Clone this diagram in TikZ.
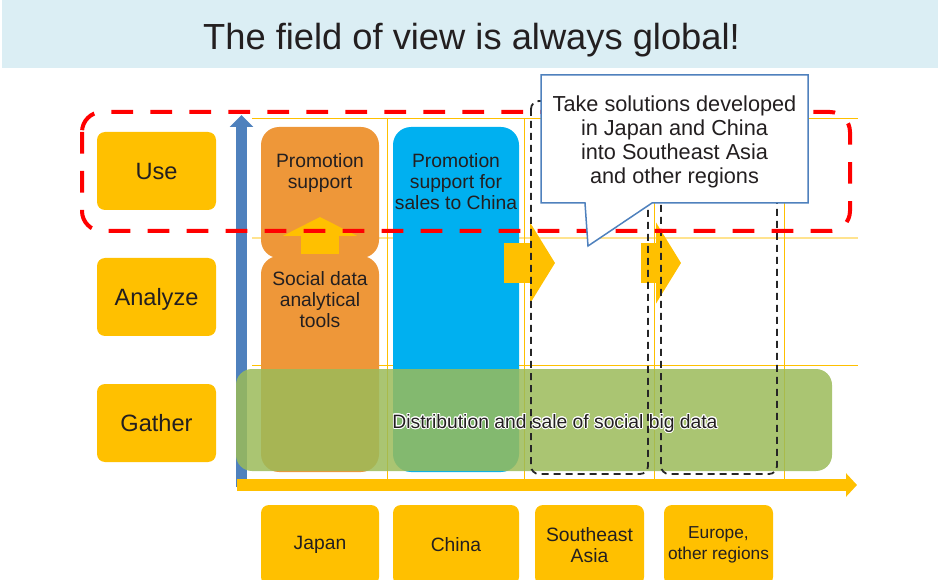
\documentclass[tikz,border=0pt]{standalone}
\usepackage{fontspec}
\setmainfont{Liberation Sans}
\usepackage[copies]{contour}
\usepackage{xcolor}
\usetikzlibrary{arrows.meta}

\definecolor{bandblue}{HTML}{DBEEF4}
\definecolor{gold}{HTML}{FFC000}
\definecolor{paleline}{HTML}{FFE38F}
\definecolor{jporange}{HTML}{EE9739}
\definecolor{cnblue}{HTML}{00B0F0}
\definecolor{axisblue}{HTML}{4F81BD}
\definecolor{bargreen}{HTML}{9BBB59}
\definecolor{ink}{HTML}{231F20}
\contourlength{0.9pt}

\begin{document}
\begin{tikzpicture}[x=1pt, y=-1pt,
  stage/.style={fill=gold, rounded corners=8pt, minimum width=119pt, minimum height=78pt,
    text=ink, text depth=0pt, font=\fontsize{23.6}{26}\selectfont},
  region/.style={fill=gold, rounded corners=8pt, minimum height=80pt, inner sep=2pt,
    text=ink, align=center, font=\fontsize{19.3}{20.7}\selectfont},
  coltext/.style={anchor=north, inner sep=0pt, align=center, text=ink,
    font=\fontsize{19.3}{21}\selectfont},
  gridline/.style={gold, line width=0.8pt},
  blockarrow/.style={gold, line width=40pt, -{Triangle[width=80pt,length=25pt]}},
  outlook/.style={black!85, line width=1.8pt, dash pattern=on 7pt off 5pt, rounded corners=8pt}
]
  \useasboundingbox (0,0) rectangle (938,580);
  \clip (0,0) rectangle (938,580);

  % heading band
  \fill[bandblue] (2,0) rectangle (938,68);
  \node[anchor=base, text=ink, font=\fontsize{36.3}{40}\selectfont] (title) at (471.5,50)
    {The field of view is always global!};

  % thin guide lines of the grid
  \foreach \yy in {118,365} \draw[gridline] (252,\yy) -- (858,\yy);
  \draw[paleline, line width=2pt] (252,238) -- (858,238);
  \foreach \xx in {387,524,654,784} \draw[gridline] (\xx,118) -- (\xx,479);

  % vertical axis
  \draw[axisblue, line width=11pt, -{Triangle[width=23pt,length=12pt]}] (241.5,487) -- (241.5,115);

  % Japan column
  \fill[jporange, rounded corners=18pt] (261,256) rectangle (379,472);
  \fill[jporange, rounded corners=18pt] (261,127) rectangle (379,258);
  \node[coltext] (jpuse) at (320,153.3) {Promotion\\support};
  \node[coltext] (jptools) at (320,271.5) {Social data\\analytical\\tools};
  \draw[gold, line width=38pt, -{Triangle[width=74pt,length=19pt]}] (320,254) -- (320,217);

  % China column
  \fill[cnblue, rounded corners=18pt] (393,127) rectangle (519,472);
  \node[coltext] (cnuse) at (456,153.3) {Promotion\\support for\\sales to China};

  % expansion arrows
  \draw[blockarrow] (504,263) -- (555,263);
  \draw[blockarrow] (641,263) -- (681,263);

  % data layer across all regions
  \fill[bargreen, fill opacity=0.85, rounded corners=16pt] (236,369) rectangle (832,471);

  % horizontal axis
  \draw[gold, line width=12pt, -{Triangle[width=23pt,length=11pt]}] (237,485) -- (857,485);

  % target regions
  \draw[outlook] (531,101) rectangle (648,474);
  \draw[outlook] (661,101) rectangle (777,474);

  \node[anchor=base, text=ink, font=\fontsize{19.3}{22}\selectfont] (bigdata) at (555,428.3)
    {\contour{white}{Distribution and sale of social big data}};

  % the "use" layer
  \draw[red, line width=4pt, dash pattern=on 21.7pt off 17.3pt, rounded corners=20pt]
    (82,112) rectangle (850,231);

  % speech bubble
  \draw[axisblue, fill=white, line width=1.5pt] (541,75) -- (808,75) -- (808,203) -- (652,203)
    -- (588,246) -- (585,203) -- (541,203) -- cycle;
  \node[coltext, font=\fontsize{21.7}{23.7}\selectfont] (bubble) at (674.5,96)
    {Take solutions developed\\in Japan and China\\into Southeast Asia\\and other regions};

  % stages
  \node[stage] (use) at (156.5,171) {Use};
  \node[stage] (analyze) at (156.5,297) {Analyze};
  \node[stage] (gather) at (156.5,423) {Gather};

  % regions
  \node[region, minimum width=118pt] (japan) at (320,545) {Japan};
  \node[region, minimum width=126pt] (china) at (456,545) {China};
  \node[region, minimum width=109pt] (seasia) at (589.5,545) {Southeast\\Asia};
  \node[region, minimum width=109pt, font=\fontsize{17.3}{20.7}\selectfont] (europe) at (718.5,545)
    {Europe,\\other regions};
\end{tikzpicture}
\end{document}
